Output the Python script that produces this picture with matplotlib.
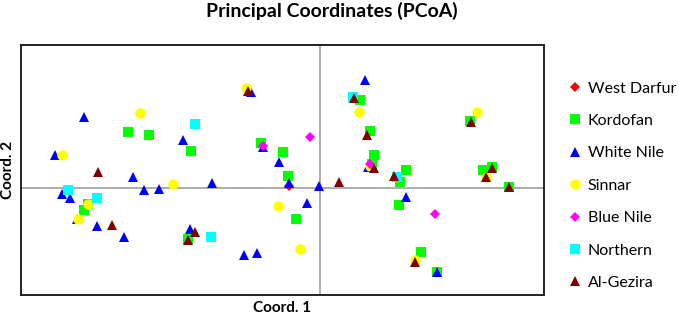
import matplotlib
matplotlib.use('Agg')
import matplotlib.pyplot as plt

plt.rcParams['font.family'] = ['Lato', 'DejaVu Sans']

# PCoA coordinates (Coord. 1, Coord. 2)
wd_x = [-0.31]
wd_y = [0.02]

kor_x = [-1.92, -1.71, -2.32, -2.36, -1.29, -0.59, -0.37, -0.32, -0.24, -1.32, 0.40, 0.50,
         0.54, 0.52, 0.86, 0.80, 0.79, 1.50, 1.63, 1.72, 1.89, 1.01, 1.17]
kor_y = [0.56, 0.53, -0.16, -0.22, 0.37, 0.45, 0.36, 0.12, -0.31, -0.51, 0.88, 0.57,
         0.33, 0.24, 0.18, 0.06, -0.17, 0.67, 0.18, 0.21, 0.01, -0.64, -0.84]

wn_x = [-2.36, -2.65, -2.58, -2.50, -1.87, -1.76, -1.61, -2.43, -2.23, -1.96, -1.37, -0.69,
        -0.57, -0.41, -0.31, -1.08, -0.01, -0.13, -1.30, -0.76, -0.63, 0.45, 0.48, 0.86, 1.17]
wn_y = [0.71, 0.33, -0.06, -0.10, 0.11, -0.02, -0.01, -0.31, -0.38, -0.49, 0.48, 0.96,
        0.41, 0.26, 0.05, 0.05, 0.02, -0.15, -0.41, -0.67, -0.65, 1.08, 0.21, -0.09, -0.84]

sin_x = [-1.80, -2.58, -1.47, -2.32, -2.42, -0.74, -0.42, -0.20, 0.39, 0.50, 1.57, 1.66, 0.95]
sin_y = [0.75, 0.33, 0.04, -0.16, -0.31, 1.00, -0.18, -0.61, 0.76, 0.22, 0.76, 0.11, -0.72]

bn_x = [-0.57, -0.10, 0.50, 1.15]
bn_y = [0.42, 0.51, 0.24, -0.26]

nor_x = [-2.52, -2.23, -1.25, -1.09, 0.33, 0.77]
nor_y = [-0.02, -0.10, 0.64, -0.49, 0.91, 0.11]

gez_x = [-2.22, -2.08, -1.25, -1.32, -0.72, 0.34, 0.47, 0.54, 0.74, 0.19, 1.51, 1.72, 1.66, 1.89, 0.95]
gez_y = [0.16, -0.37, -0.44, -0.52, 0.97, 0.90, 0.53, 0.20, 0.12, 0.06, 0.66, 0.20, 0.11, 0.01, -0.74]

groups = [
    ('West Darfur', wd_x, wd_y, 'D', '#ff0000', 5.0),
    ('Kordofan', kor_x, kor_y, 's', '#00ff00', 6.5),
    ('White Nile', wn_x, wn_y, '^', '#0000ff', 7.5),
    ('Sinnar', sin_x, sin_y, 'o', '#ffff00', 7.5),
    ('Blue Nile', bn_x, bn_y, 'D', '#ff00ff', 5.0),
    ('Northern', nor_x, nor_y, 's', '#00ffff', 6.5),
    ('Al-Gezira', gez_x, gez_y, '^', '#800000', 7.5),
]

fig = plt.figure(figsize=(6.78, 3.17), dpi=100)
ax = fig.add_axes([0.031, 0.069, 0.771, 0.789])

ax.axhline(0, color='#a6a6a6', lw=1.3, zorder=1)
ax.axvline(0, color='#a6a6a6', lw=1.3, zorder=1)

for name, xs, ys, mk, col, ms in groups:
    ax.plot(xs, ys, ls='none', marker=mk, color=col, markersize=ms,
            markeredgewidth=0, label=name, zorder=3)

ax.set_xlim(-2.99, 2.24)
ax.set_ylim(-1.075, 1.425)
ax.set_xticks([])
ax.set_yticks([])
for sp in ax.spines.values():
    sp.set_linewidth(1.4)
    sp.set_color('#222222')

ax.set_xlabel('Coord. 1', fontsize=11, fontweight='bold', labelpad=4)
ax.set_ylabel('Coord. 2', fontsize=11, fontweight='bold', labelpad=4)
fig.suptitle('Principal Coordinates (PCoA)', x=0.49, y=0.995, fontsize=14, fontweight='bold')

ax.legend(loc='upper left', bbox_to_anchor=(1.035, 0.88), frameon=False, fontsize=11.5,
          handlelength=0.8, handletextpad=0.4, labelspacing=1.14, borderaxespad=0)

fig.savefig('out.png', dpi=100)
